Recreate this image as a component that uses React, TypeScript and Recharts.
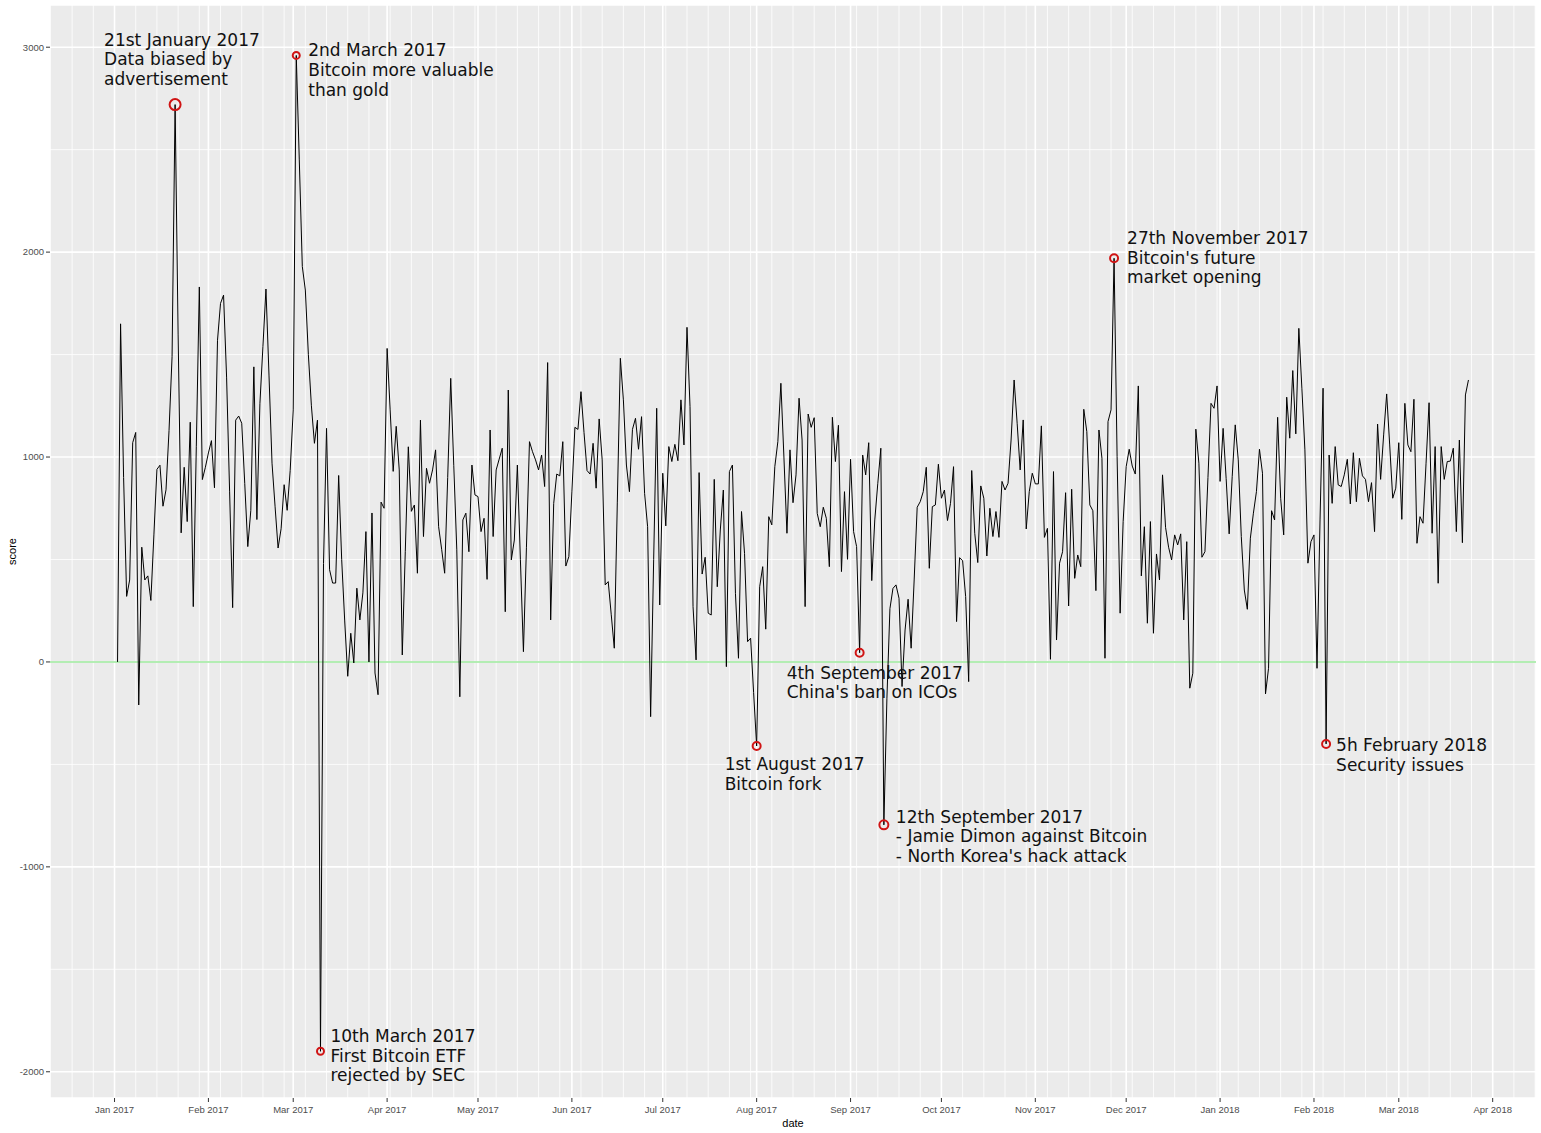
import { LineChart, Line, XAxis, YAxis, CartesianGrid, ReferenceLine, ReferenceDot } from "recharts"

// daily score, one array per month, first value is 2 Jan 2017
const startDate = "2017-01-02"

const jan17 = [0, 1650, 900, 320, 400, 1070, 1120, -210, 560, 400, 420, 300, 620, 940, 960, 760, 840, 1130, 1490, 2720, 1600, 630, 950, 685, 1170, 270, 1050, 1830, 890, 950]
const feb17 = [1020, 1080, 850, 1570, 1750, 1790, 1390, 830, 265, 1180, 1200, 1165, 870, 563, 740, 1440, 695, 1260, 1540, 1820, 1400, 970, 760, 556, 650, 865, 740, 935]
const mar17 = [1230, 2960, 2450, 1930, 1815, 1500, 1250, 1067, 1180, -1900, 480, 1140, 450, 385, 385, 910, 500, 200, -70, 140, -5, 360, 205, 337, 636, 0, 727, -54, -160, 780, 750]
const apr17 = [1530, 1230, 930, 1150, 937, 34, 540, 1050, 735, 766, 433, 1180, 612, 945, 872, 937, 1035, 660, 550, 433, 900, 1384, 960, 547, -170, 693, 726, 538, 961, 815]
const may17 = [807, 636, 701, 403, 1132, 612, 937, 990, 1043, 245, 1327, 498, 595, 961, 500, 50, 560, 1075, 1026, 986, 937, 1010, 856, 1461, 205, 774, 917, 908, 1075, 468, 514]
const jun17 = [830, 1145, 1135, 1319, 1120, 934, 917, 1067, 848, 1186, 986, 376, 392, 230, 67, 780, 1482, 1279, 961, 831, 1135, 1189, 1038, 1197, 823, 660, -267, 500, 1238, 278]
const jul17 = [921, 664, 1051, 978, 1062, 982, 1279, 1059, 1633, 1246, 270, 10, 924, 429, 511, 238, 229, 891, 367, 644, 839, -23, 929, 961, 335, 18, 734, 530, 99, 116, -150]
const aug17 = [-410, 367, 465, 160, 709, 669, 953, 1075, 1360, 1000, 628, 1035, 777, 913, 1287, 1083, 270, 1210, 1145, 1192, 725, 660, 755, 701, 465, 1194, 978, 1155, 441, 831, 501]
const sep17 = [989, 636, 563, 45, 1010, 913, 1070, 397, 693, 872, 1043, -795, -180, 260, 359, 376, 311, -120, 156, 306, 67, 400, 755, 782, 831, 950, 457, 758, 766, 965]
const oct17 = [799, 839, 690, 774, 953, 197, 509, 494, 319, -96, 934, 628, 485, 859, 799, 517, 750, 612, 734, 608, 881, 839, 872, 1083, 1376, 1165, 937, 1181, 649, 831, 921]
const nov17 = [869, 869, 1152, 608, 652, 13, 929, 107, 482, 538, 826, 273, 843, 408, 522, 465, 1233, 1124, 766, 738, 348, 1132, 994, 18, 1173, 1230, 1970, 1002, 238, 685]
const dec17 = [953, 1038, 956, 917, 1347, 420, 660, 189, 685, 140, 527, 400, 913, 657, 560, 498, 620, 571, 625, 205, 587, -128, -55, 1136, 970, 511, 538, 900, 1262, 1238, 1347]
const jan18 = [881, 1140, 896, 625, 904, 1157, 986, 612, 351, 257, 604, 726, 831, 1038, 921, -156, -31, 738, 693, 1194, 799, 620, 1292, 1092, 1422, 1113, 1628, 1336, 1035, 482, 587]
const feb18 = [620, -31, 693, 1336, -400, 1010, 774, 1051, 864, 856, 913, 989, 771, 1021, 782, 994, 908, 891, 782, 875, 636, 1161, 891, 1108, 1308, 1059, 799, 848]
const mar18 = [1070, 696, 1262, 1059, 1026, 1282, 579, 709, 677, 970, 1265, 628, 1051, 384, 1051, 891, 978, 980, 1043, 636, 1083, 582, 1303, 1376]

const monthStarts = [
  "2017-01-01", "2017-02-01", "2017-03-01", "2017-04-01", "2017-05-01", "2017-06-01", "2017-07-01", "2017-08-01",
  "2017-09-01", "2017-10-01", "2017-11-01", "2017-12-01", "2018-01-01", "2018-02-01", "2018-03-01", "2018-04-01",
]
const monthLabels = [
  "Jan 2017", "Feb 2017", "Mar 2017", "Apr 2017", "May 2017", "Jun 2017", "Jul 2017", "Aug 2017",
  "Sep 2017", "Oct 2017", "Nov 2017", "Dec 2017", "Jan 2018", "Feb 2018", "Mar 2018", "Apr 2018",
]
const yTicks = [-2000, -1000, 0, 1000, 2000, 3000]
const yMinor = [-1500, -500, 500, 1500, 2500]

const eventDates = ["2017-01-21", "2017-03-02", "2017-03-10", "2017-08-01", "2017-09-04", "2017-09-12", "2017-11-27", "2018-02-05"]
const eventLabels = [
  ["21st January 2017", "Data biased by", "advertisement"],
  ["2nd March 2017", "Bitcoin more valuable", "than gold"],
  ["10th March 2017", "First Bitcoin ETF", "rejected by SEC"],
  ["1st August 2017", "Bitcoin fork"],
  ["4th September 2017", "China's ban on ICOs"],
  ["12th September 2017", "- Jamie Dimon against Bitcoin", "- North Korea's hack attack"],
  ["27th November 2017", "Bitcoin's future", "market opening"],
  ["5h February 2018", "Security issues"],
]

// where each annotation text sits, relative to its circle (px)
const labelOffsets = [[-71, -65], [12, -5], [10, -15], [-32, 18], [-73, 20], [12, -8], [13, -20], [10, 1]]
const circleRadius = [5.5, 3.5, 3.5, 4, 4, 4.5, 4, 4]

const DAY = 86400000
const dayIndex = (d: string) => Math.round((Date.parse(d) - Date.parse(startDate)) / DAY)

const scores = [...jan17, ...feb17, ...mar17, ...apr17, ...may17, ...jun17, ...jul17, ...aug17, ...sep17, ...oct17, ...nov17, ...dec17, ...jan18, ...feb18, ...mar18]
const data = scores.map((score, t) => ({ t, score }))

// ggplot style 5% expansion
const pad = (scores.length - 1) * 0.05
const xDomain = [-pad, scores.length - 1 + pad]
const monthTicks = monthStarts.map(dayIndex)
const weekTicks: number[] = []
for (let t = dayIndex("2016-12-18"); t <= xDomain[1]; t += 7) weekTicks.push(t)

const tickFont = { fill: "#4D4D4D", fontSize: 9.5, fontFamily: "Liberation Sans, Arial, sans-serif" }

function EventMark(props: any) {
  const { cx, cy, r, k } = props
  const [dx, dy] = labelOffsets[k]
  return (
    <g>
      <circle cx={cx} cy={cy} r={r} fill="none" stroke="#D01414" strokeWidth={2} />
      {eventLabels[k].map((line, j) => (
        <text
          key={j}
          x={cx + dx}
          y={cy + dy + j * 19.6}
          dominantBaseline="central"
          fontSize={17}
          fontFamily="DejaVu Sans, sans-serif"
          fill="#111"
        >
          {line}
        </text>
      ))}
    </g>
  )
}

export default function App() {
  return (
    <div style={{ position: "absolute", left: 0, top: 0, width: 1541, height: 1133, background: "#fff" }}>
      <LineChart width={1541} height={1133} data={data} margin={{ top: 5, right: 5, bottom: 0, left: 0 }}>
        <CartesianGrid fill="#EBEBEB" stroke="#FFFFFF" strokeWidth={0.8} verticalValues={weekTicks} horizontalValues={yMinor} />
        <CartesianGrid stroke="#FFFFFF" strokeWidth={1.6} />
        <XAxis
          type="number"
          dataKey="t"
          domain={xDomain}
          ticks={monthTicks}
          tickFormatter={(t: number) => monthLabels[monthTicks.indexOf(t)]}
          height={35}
          axisLine={false}
          tickLine={{ stroke: "#333333" }}
          tickSize={4}
          tickMargin={4}
          tick={tickFont}
          label={{ value: "date", position: "insideBottom", offset: 6, fill: "#000", fontSize: 11, fontFamily: "Liberation Sans, Arial, sans-serif" }}
        />
        <YAxis
          type="number"
          domain={[-2128, 3206]}
          ticks={yTicks}
          width={50}
          axisLine={false}
          tickLine={{ stroke: "#333333" }}
          tickSize={4}
          tick={tickFont}
          label={{
            content: (p: any) => {
              const vb = p.viewBox || { x: 0, y: 5, width: 50, height: 1093 }
              const lx = vb.x + 12
              const ly = vb.y + vb.height / 2
              return (
                <text
                  x={lx}
                  y={ly}
                  transform={`rotate(-90 ${lx} ${ly})`}
                  textAnchor="middle"
                  dominantBaseline="central"
                  fontSize={11}
                  fontFamily="Liberation Sans, Arial, sans-serif"
                  fill="#000"
                >
                  score
                </text>
              )
            },
          }}
        />
        <ReferenceLine y={0} stroke="#9BE89B" strokeWidth={1.4} />
        <Line type="linear" dataKey="score" stroke="#000" strokeWidth={1} dot={false} isAnimationActive={false} />
        {eventDates.map((d, k) => {
          const t = dayIndex(d)
          return (
            <ReferenceDot
              key={d}
              x={t}
              y={scores[t]}
              r={circleRadius[k]}
              shape={(p: any) => <EventMark {...p} k={k} />}
            />
          )
        })}
      </LineChart>
    </div>
  )
}
